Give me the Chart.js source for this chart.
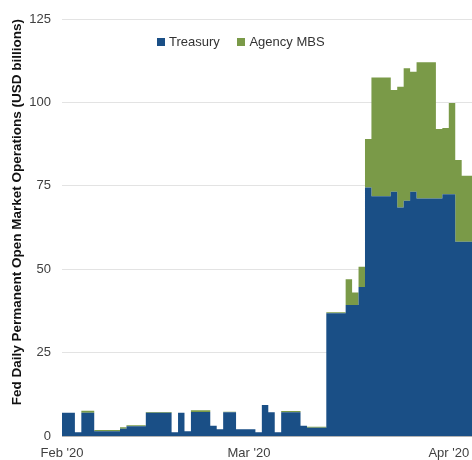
<!DOCTYPE html>
<html lang="en">
<head>
  <meta charset="UTF-8" />
  <title>Fed Daily Permanent Open Market Operations</title>
  <script src="https://cdn.jsdelivr.net/npm/chart.js"></script>
  <style>
    body { margin: 0; background: #fff; font-family: Arial, 'Liberation Sans', sans-serif; }
    .wrap { position: relative; width: 472px; height: 460px; overflow: hidden; }
    .legend {
      position: absolute; top: 33px; left: 157px;
      font-size: 13px; color: #333; white-space: nowrap;
    }
    .legend span { display: inline-block; vertical-align: middle; }
    .legend .box { width: 8px; height: 8px; margin-right: 4px; }
    .legend .item { margin-right: 14px; }
  </style>
</head>
<body>
  <div class="wrap">
    <canvas id="chart"></canvas>
    <div class="legend">
      <span class="box" style="background:#1a4f86"></span><span class="item">Treasury</span>
      <span class="box" style="background:#7a9a48"></span><span>Agency MBS</span>
    </div>
  </div>

  <script>
    // operation dates (business days), value holds until the next date
    const dates = [
      '2020-01-31', '2020-02-03', '2020-02-04', '2020-02-05', '2020-02-06', '2020-02-07',
      '2020-02-10', '2020-02-11', '2020-02-12', '2020-02-13', '2020-02-14', '2020-02-18',
      '2020-02-19', '2020-02-20', '2020-02-21', '2020-02-24', '2020-02-25', '2020-02-26',
      '2020-02-27', '2020-02-28', '2020-03-02', '2020-03-03', '2020-03-04', '2020-03-05',
      '2020-03-06', '2020-03-09', '2020-03-10', '2020-03-11', '2020-03-12', '2020-03-13',
      '2020-03-16', '2020-03-17', '2020-03-18', '2020-03-19', '2020-03-20', '2020-03-23',
      '2020-03-24', '2020-03-25', '2020-03-26', '2020-03-27', '2020-03-30', '2020-03-31',
      '2020-04-01', '2020-04-02', '2020-04-03'
    ];

    // USD billions
    const treasury = [
      7.0, 1.1, 7.0, 7.0, 1.4, 1.4, 2.2, 2.9, 2.9, 2.9, 7.0, 1.1,
      7.0, 1.4, 7.2, 3.1, 2.0, 7.1, 7.1, 2.0, 1.1, 9.3, 7.1, 1.1,
      7.1, 3.1, 2.5, 2.5, 2.5, 36.8, 39.3, 39.3, 44.7, 74.5, 71.9, 73.2,
      68.5, 70.5, 73.2, 71.2, 71.2, 72.5, 72.5, 58.2, 58.2
    ];
    const agencyMBS = [
      0, 0, 0.6, 0.6, 0.4, 0.4, 0.4, 0.3, 0.3, 0.3, 0.2, 0,
      0, 0, 0.5, 0, 0, 0.2, 0.2, 0, 0, 0, 0, 0,
      0.4, 0, 0.3, 0.3, 0.3, 0.3, 7.7, 3.7, 6.0, 14.5, 35.6, 30.5,
      36.2, 39.7, 36.0, 40.8, 20.8, 19.8, 27.3, 24.5, 19.8
    ];

    const tickDates = ['2020-02-01', '2020-03-01', '2020-04-01'];
    const tickLabels = ["Feb '20", "Mar '20", "Apr '20"];
    const yTicks = [0, 25, 50, 75, 100, 125];

    const startDate = '2020-02-01';
    const endDate = '2020-04-05';   // last value is held through the weekend

    function dayNum(s) {
      const p = s.split('-').map(Number);
      const b = startDate.split('-').map(Number);
      return (Date.UTC(p[0], p[1] - 1, p[2]) - Date.UTC(b[0], b[1] - 1, b[2])) / 86400000;
    }

    // step points, plus a closing point so the last value runs to the end date
    function toPoints(vals) {
      const pts = dates.map((d, i) => ({ x: dayNum(d), y: vals[i] }));
      pts.push({ x: dayNum(endDate), y: vals[vals.length - 1] });
      return pts;
    }
    const tickPos = tickDates.map(dayNum);

    Chart.defaults.font.family = "Arial, 'Liberation Sans', sans-serif";
    Chart.defaults.color = '#404040';

    new Chart(document.getElementById('chart'), {
      type: 'line',
      data: {
        datasets: [
          {
            label: 'Treasury',
            data: toPoints(treasury),
            backgroundColor: '#1a4f86',
            borderWidth: 0,
            pointRadius: 0,
            stepped: true,
            fill: 'origin'
          },
          {
            label: 'Agency MBS',
            data: toPoints(agencyMBS),
            backgroundColor: '#7a9a48',
            borderWidth: 0,
            pointRadius: 0,
            stepped: true,
            fill: '-1'
          }
        ]
      },
      options: {
        responsive: true,
        maintainAspectRatio: false,
        animation: false,
        layout: { padding: { top: 19, right: 0, bottom: 0, left: 0 } },
        plugins: { legend: { display: false }, tooltip: { enabled: false } },
        scales: {
          x: {
            type: 'linear',
            min: 0,
            max: dayNum(endDate) - 0.4,
            grid: { display: false, drawTicks: false },
            border: { display: true, color: '#b3b3b3', width: 1 },
            afterBuildTicks: s => { s.ticks = tickPos.map(v => ({ value: v })); },
            afterFit: s => { s.paddingRight = 0; s.height = 24; },
            ticks: {
              autoSkip: false,
              maxRotation: 0,
              padding: 10,
              font: { size: 13 },
              callback: v => tickLabels[tickPos.indexOf(v)]
            }
          },
          y: {
            stacked: true,
            min: 0,
            max: 125,
            afterBuildTicks: s => { s.ticks = yTicks.map(v => ({ value: v })); },
            afterFit: s => { s.width = 62; },
            grid: { color: '#e3e3e3', drawTicks: false },
            border: { display: false },
            ticks: { padding: 11, font: { size: 13 } },
            title: {
              display: true,
              text: 'Fed Daily Permanent Open Market Operations (USD billions)',
              align: 'end',
              color: '#111',
              font: { size: 13.5, weight: 'bold' },
              padding: { top: 9, bottom: 0 }
            }
          }
        }
      }
    });
  </script>
</body>
</html>
